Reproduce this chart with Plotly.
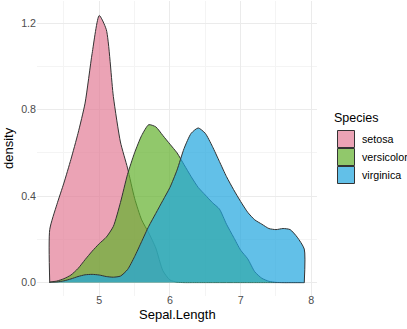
import plotly.graph_objects as go

# density estimates, on a 0.1 grid of Sepal.Length
sepal_length = [4.3, 4.4, 4.5, 4.6, 4.7, 4.8, 4.9, 5.0, 5.1, 5.2,
                5.3, 5.4, 5.5, 5.6, 5.7, 5.8, 5.9, 6.0, 6.1, 6.2,
                6.3, 6.4, 6.5, 6.6, 6.7, 6.8, 6.9, 7.0, 7.1, 7.2,
                7.3, 7.4, 7.5, 7.6, 7.7, 7.8, 7.9]

setosa = [0.245, 0.36, 0.46, 0.57, 0.69, 0.83, 1.06, 1.235, 1.17, 0.86,
          0.65, 0.53, 0.39, 0.29, 0.23, 0.16, 0.055, 0.012, 0.002, 0.0,
          0.0, 0.0, 0.0, 0.0, 0.0, 0.0, 0.0, 0.0, 0.0, 0.0,
          0.0, 0.0, 0.0, 0.0, 0.0, 0.0, 0.0]

versicolor = [0.002, 0.007, 0.018, 0.035, 0.065, 0.106, 0.145, 0.18, 0.21, 0.26,
              0.37, 0.50, 0.60, 0.68, 0.73, 0.72, 0.68, 0.64, 0.60, 0.545,
              0.49, 0.44, 0.405, 0.37, 0.34, 0.27, 0.21, 0.15, 0.11, 0.05,
              0.02, 0.006, 0.001, 0.0, 0.0, 0.0, 0.0]

virginica = [0.001, 0.003, 0.008, 0.017, 0.028, 0.036, 0.038, 0.035, 0.028, 0.025,
             0.03, 0.06, 0.12, 0.19, 0.26, 0.32, 0.38, 0.44, 0.52, 0.62,
             0.69, 0.715, 0.69, 0.63, 0.56, 0.49, 0.43, 0.375, 0.325, 0.29,
             0.27, 0.25, 0.245, 0.25, 0.245, 0.21, 0.155]

species = ['setosa', 'versicolor', 'virginica']
fills = ['rgba(226,124,149,0.7)', 'rgba(99,176,44,0.7)', 'rgba(31,165,222,0.7)']

W, H = 407, 329
L, R, T, B = 37, 90, 1, 33
pw, ph = W - L - R, H - T - B


def px_x(p):
    return (p - L) / pw


def px_y(p):
    return (H - B - p) / ph


fig = go.Figure()
for name, dens, col in zip(species, [setosa, versicolor, virginica], fills):
    # close the polygon at the baseline so the outline matches ggplot's
    xs = [sepal_length[0]] + sepal_length + [sepal_length[-1]]
    ys = [0] + dens + [0]
    fig.add_trace(go.Scatter(x=xs, y=ys, name=name, mode='lines',
                             fill='toself', fillcolor=col, showlegend=False,
                             line=dict(color='#333333', width=1, shape='spline', smoothing=0.6)))

# hand-drawn legend, ggplot style
fig.add_annotation(text='Species', x=px_x(332), y=px_y(118), xref='paper', yref='paper',
                   xanchor='left', yanchor='middle', showarrow=False, font=dict(size=12.5))
for i, (name, col) in enumerate(zip(species, fills)):
    top = 130.5 + i * 18
    fig.add_shape(type='rect', xref='paper', yref='paper',
                  x0=px_x(337.5), x1=px_x(354.5), y0=px_y(top), y1=px_y(top + 17),
                  fillcolor=col, line=dict(color='#333333', width=1))
    fig.add_annotation(text=name, x=px_x(360), y=px_y(top + 8.5), xref='paper', yref='paper',
                       xanchor='left', yanchor='middle', showarrow=False, font=dict(size=10.7))

# axis titles
fig.add_annotation(text='Sepal.Length', x=px_x(177), y=px_y(314), xref='paper', yref='paper',
                   xanchor='center', yanchor='middle', showarrow=False, font=dict(size=13))
fig.add_annotation(text='density', x=px_x(8), y=px_y(148), xref='paper', yref='paper',
                   xanchor='center', yanchor='middle', textangle=-90, showarrow=False,
                   font=dict(size=13))

font = 'Liberation Sans, Arial, sans-serif'
fig.update_layout(
    width=W, height=H,
    margin=dict(l=L, r=R, t=T, b=B),
    plot_bgcolor='white', paper_bgcolor='white',
    font=dict(family=font, color='black'),
    showlegend=False,
    xaxis=dict(range=[4.12, 8.08], tickvals=[5, 6, 7, 8], ticktext=['5', '6', '7', '8'],
               automargin=False, showgrid=True, gridcolor='#EBEBEB', gridwidth=1, zeroline=False,
               showline=False, ticks='', ticklabelstandoff=-4,
               tickfont=dict(size=10.7, color='#4D4D4D'),
               minor=dict(tickvals=[4.5, 5.5, 6.5, 7.5], showgrid=True, gridcolor='#F4F4F4', gridwidth=0.6)),
    yaxis=dict(range=[-0.062, 1.302], tickvals=[0, 0.4, 0.8, 1.2],
               ticktext=['0.0', '0.4', '0.8', '1.2'],
               automargin=False, showgrid=True, gridcolor='#EBEBEB', gridwidth=1, zeroline=False,
               showline=False, ticks='', tickfont=dict(size=10.7, color='#4D4D4D'),
               minor=dict(tickvals=[0.2, 0.6, 1.0], showgrid=True, gridcolor='#F4F4F4', gridwidth=0.6)),
)

# the default page has an 8px body margin; drop it so the figure fills the window
fig.write_html("out.html", config={'displayModeBar': False},
               post_script="document.body.style.margin='0px';")
